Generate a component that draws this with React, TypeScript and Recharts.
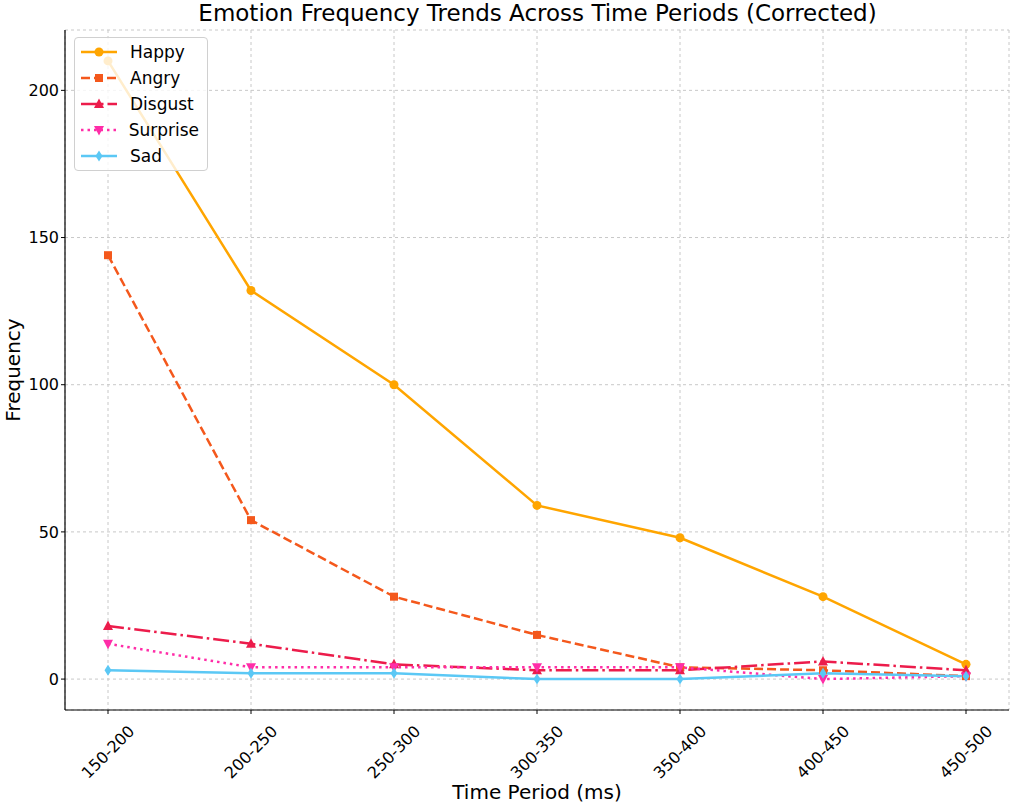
import React from 'react';
import { LineChart, Line, XAxis, YAxis, CartesianGrid } from 'recharts';

const periods = ['150-200', '200-250', '250-300', '300-350', '350-400', '400-450', '450-500'];
const happy = [210, 132, 100, 59, 48, 28, 5];
const angry = [144, 54, 28, 15, 4, 3, 1];
const disgust = [18, 12, 5, 3, 3, 6, 3];
const surprise = [12, 4, 4, 4, 4, 0, 1];
const sad = [3, 2, 2, 0, 0, 2, 1];
const yTicks = [0, 50, 100, 150, 200];

const data = periods.map((p, i) => ({
    period: p,
    Happy: happy[i],
    Angry: angry[i],
    Disgust: disgust[i],
    Surprise: surprise[i],
    Sad: sad[i],
}));

const FONT = '"DejaVu Sans", sans-serif';

const series = [
    { key: 'Happy', color: '#FFA500', dash: undefined, shape: 'circle' },
    { key: 'Angry', color: '#F4581C', dash: '9 4', shape: 'square' },
    { key: 'Disgust', color: '#EC1C4B', dash: '16 4 2.5 4', shape: 'triangle' },
    { key: 'Surprise', color: '#FF2DA8', dash: '2.5 4', shape: 'triangleDown' },
    { key: 'Sad', color: '#5BC8F5', dash: undefined, shape: 'diamond' },
];

function markerShape(shape: string, cx: number, cy: number, color: string) {
    switch (shape) {
        case 'circle':
            return <circle cx={cx} cy={cy} r={4.5} fill={color} />;
        case 'square':
            return <rect x={cx - 4} y={cy - 4} width={8} height={8} fill={color} />;
        case 'triangle':
            return <polygon points={`${cx},${cy - 5.5} ${cx - 5},${cy + 4} ${cx + 5},${cy + 4}`} fill={color} />;
        case 'triangleDown':
            return <polygon points={`${cx},${cy + 5.5} ${cx - 5},${cy - 4} ${cx + 5},${cy - 4}`} fill={color} />;
        default:
            return <polygon points={`${cx},${cy - 5.5} ${cx + 3.5},${cy} ${cx},${cy + 5.5} ${cx - 3.5},${cy}`} fill={color} />;
    }
}

const makeDot = (shape: string, color: string) => (props: any) => {
    const { cx, cy, index } = props;
    if (cx == null || cy == null) return <g key={index} />;
    return <g key={`${shape}-${index}`}>{markerShape(shape, cx, cy, color)}</g>;
};

const XTick = (props: any) => {
    const { x, y, payload } = props;
    const cy = y + 36;
    return (
        <text
            x={x}
            y={cy}
            transform={`rotate(-45, ${x}, ${cy})`}
            textAnchor="middle"
            dominantBaseline="central"
            fontSize={16}
            fontFamily={FONT}
            fill="#000"
        >
            {payload.value}
        </text>
    );
};

const LegendBox = () => (
    <div
        style={{
            position: 'absolute',
            left: 74,
            top: 37,
            background: 'rgba(255,255,255,0.8)',
            border: '1px solid #d0d0d0',
            borderRadius: 4,
            padding: '1px 8px 1px 5px',
            width: 119,
            fontFamily: FONT,
            fontSize: 17,
        }}
    >
        {series.map((s) => (
            <div key={s.key} style={{ display: 'flex', alignItems: 'center', height: 26 }}>
                <svg width={38} height={16} style={{ marginRight: 12 }}>
                    <line x1={1} y1={8} x2={37} y2={8} stroke={s.color} strokeWidth={2.5} strokeDasharray={s.dash} />
                    {markerShape(s.shape, 19, 8, s.color)}
                </svg>
                <span>{s.key}</span>
            </div>
        ))}
    </div>
);

export default function App() {
    return (
        <div style={{ position: 'absolute', left: 0, top: 0, width: 1013, height: 806, background: '#fff', fontFamily: FONT }}>
            <LineChart width={1013} height={806} data={data} margin={{ top: 30, right: 4, left: 0, bottom: 0 }}>
                <CartesianGrid stroke="#c8c8c8" strokeDasharray="3 3" />
                <XAxis
                    dataKey="period"
                    height={96}
                    padding={{ left: 43, right: 43 }}
                    axisLine={{ stroke: '#000', strokeWidth: 1.2 }}
                    tickLine={{ stroke: '#000' }}
                    tickSize={4}
                    tick={<XTick />}
                    interval={0}
                />
                <YAxis
                    width={65}
                    type="number"
                    domain={[-10.5, 220.5]}
                    ticks={yTicks}
                    allowDataOverflow
                    axisLine={{ stroke: '#000', strokeWidth: 1.2 }}
                    tickLine={{ stroke: '#000' }}
                    tickSize={4}
                    tick={{ fill: '#000', fontSize: 16, fontFamily: FONT }}
                />
                {series.map((s) => (
                    <Line
                        key={s.key}
                        type="linear"
                        dataKey={s.key}
                        stroke={s.color}
                        strokeWidth={2.5}
                        strokeDasharray={s.dash}
                        dot={makeDot(s.shape, s.color)}
                        activeDot={false}
                        isAnimationActive={false}
                    />
                ))}
            </LineChart>
            <LegendBox />
            <div style={{ position: 'absolute', top: 0, left: 0, width: 1013, textAlign: 'center', fontSize: 23, paddingLeft: 62, boxSizing: 'border-box' }}>
                Emotion Frequency Trends Across Time Periods (Corrected)
            </div>
            <div style={{ position: 'absolute', top: 780, left: 65, width: 944, textAlign: 'center', fontSize: 20 }}>
                Time Period (ms)
            </div>
            <div
                style={{
                    position: 'absolute',
                    left: 13,
                    top: 370,
                    transform: 'translate(-50%, -50%) rotate(-90deg)',
                    fontSize: 20,
                    whiteSpace: 'nowrap',
                }}
            >
                Frequency
            </div>
        </div>
    );
}
